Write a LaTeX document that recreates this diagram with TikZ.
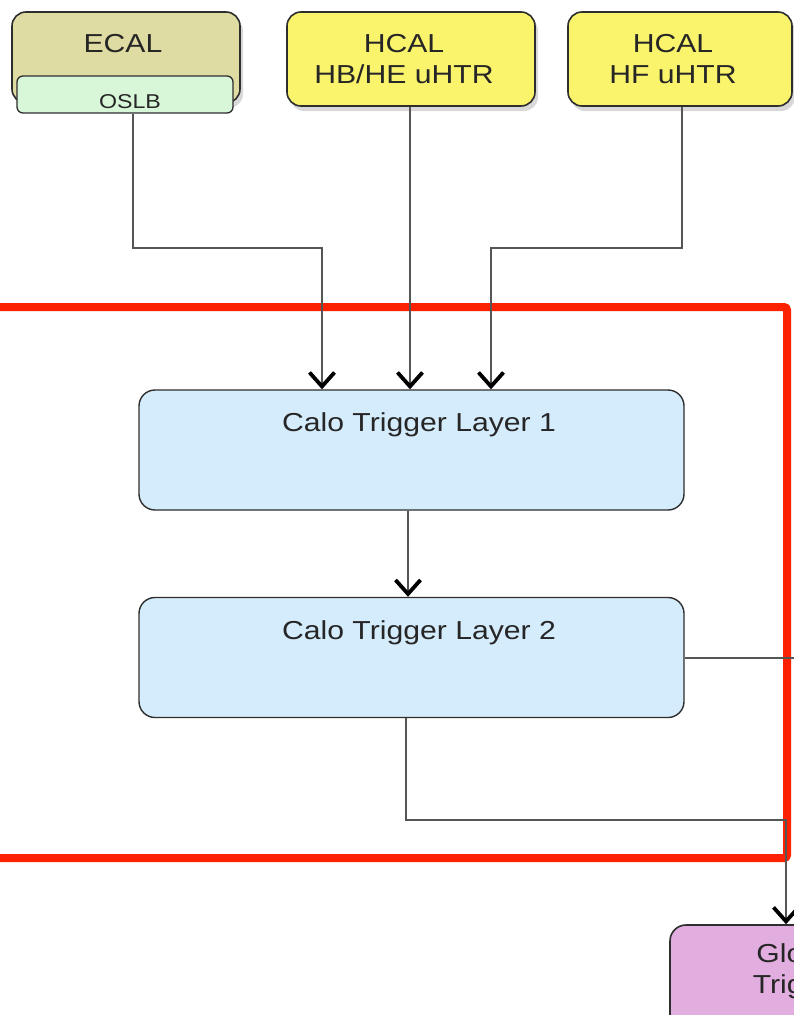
\documentclass[tikz,border=0pt]{standalone}
\usepackage{fontspec}
\setmainfont{Liberation Sans}
\usepackage{graphicx}
\usetikzlibrary{arrows.meta,shadows}
\definecolor{ecalfill}{HTML}{DEDBA3}
\definecolor{oslbfill}{HTML}{D8F6D8}
\definecolor{hcalfill}{HTML}{FAF36C}
\definecolor{calofill}{HTML}{D5ECFC}
\definecolor{gtfill}{HTML}{E2AEE0}
\definecolor{frame}{HTML}{FF2200}
\definecolor{wire}{HTML}{555555}
\definecolor{edge}{HTML}{2E2E2E}
\newcommand{\lbl}[2]{\scalebox{1.16}[1]{\fontsize{#1}{31}\selectfont\begin{tabular}{@{}c@{}}#2\end{tabular}}}
\tikzset{
  srcbox/.style={draw=edge, line width=1.6pt, rounded corners=14pt, inner sep=0pt,
    drop shadow={opacity=0.3, shadow xshift=3pt, shadow yshift=-5pt}},
  calobox/.style={draw=edge, line width=1.4pt, rounded corners=16pt, fill=calofill, inner sep=0pt,
    minimum width=545pt, minimum height=120pt},
  conn/.style={draw=wire, line width=2pt},
  arr/.style={conn, -{Straight Barb[length=14pt, width=25pt, line width=3.8pt, color=black]}},
  txt/.style={inner sep=0pt, align=center, text=black!85},
}
\begin{document}
\begin{tikzpicture}[x=1pt, y=-1pt]
\useasboundingbox (0,0) rectangle (794,1015);
\clip (0,0) rectangle (794,1015);
\fill[white] (0,0) rectangle (794,1015);

% source boxes
\node[srcbox, fill=ecalfill, minimum width=228pt, minimum height=91pt] (ecal) at (126,57.5) {};
\node[txt] (ecalt) at (123,46) {\lbl{26}{ECAL}};
\node[draw=edge, line width=1.3pt, rounded corners=6pt, fill=oslbfill, inner sep=0pt,
      minimum width=216pt, minimum height=37pt] (oslb) at (125,94.5) {};
\node[txt] (oslbt) at (130,102) {\lbl{20}{OSLB}};

\node[srcbox, fill=hcalfill, minimum width=248pt, minimum height=94pt] (hb) at (411,59) {};
\node[txt] (hbt) at (404,61.5) {\lbl{26}{HCAL\\HB/HE uHTR}};

\node[srcbox, fill=hcalfill, minimum width=224pt, minimum height=94pt] (hf) at (680,59) {};
\node[txt] (hft) at (673,61.5) {\lbl{26}{HCAL\\HF uHTR}};

% red frame
\draw[frame, line width=8pt, rounded corners=3pt] (-20,307) -- (787,307) -- (787,858) -- (-20,858);

% calo layers
\node[calobox] (l1) at (411.5,450) {};
\node[txt] (l1t) at (419,425) {\lbl{26}{Calo Trigger Layer 1}};
\node[calobox] (l2) at (411.5,657.5) {};
\node[txt] (l2t) at (419,633) {\lbl{26}{Calo Trigger Layer 2}};

% global trigger
\node[draw=edge, line width=1.6pt, rounded corners=16pt, fill=gtfill, inner sep=0pt,
      minimum width=252pt, minimum height=122pt] (gt) at (796,986) {};
\node[txt] (gtt) at (800,972) {\lbl{26}{Global\\Trigger}};

% coordinates
\coordinate (bendA) at (322,248);
\coordinate (bendB) at (491,248);
\coordinate (out2) at (800,657.5);
\coordinate (bendC) at (786,820);

% connectors
\draw[arr] ([xshift=8pt]oslb.south) |- (bendA) -- (bendA |- l1.north);
\draw[arr] ([xshift=-1pt]hb.south) -- ([xshift=-1pt]hb.south |- l1.north);
\draw[arr] ([xshift=2pt]hf.south) |- (bendB) -- (bendB |- l1.north);
\draw[arr] ([xshift=-3.5pt]l1.south) -- ([xshift=-3.5pt]l2.north);
\draw[conn] (l2.east) -- (out2);
\draw[arr] ([xshift=-5.5pt]l2.south) |- (bendC) -- (bendC |- gt.north);
\end{tikzpicture}
\end{document}
